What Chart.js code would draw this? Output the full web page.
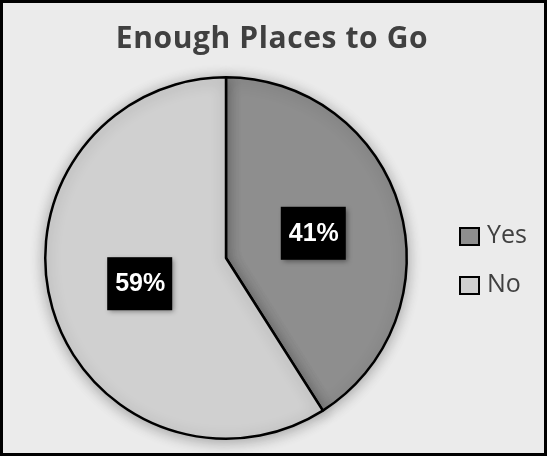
<!DOCTYPE html>
<html>
<head>
<meta charset="utf-8">
<script src="https://cdn.jsdelivr.net/npm/chart.js@4"></script>
<style>
html,body{margin:0;padding:0;background:#ebebeb;}
#wrap{width:547px;height:456px;position:relative;}
</style>
</head>
<body>
<div id="wrap"><canvas id="c" width="547" height="456"></canvas></div>
<script>
const chartTitle = "Enough Places to Go";
const categories = ["Yes", "No"];
const values = [41, 59];
const sliceColors = ["#8e8e8e", "#d0d0d0"];

const framePlugin = {
  id: 'frame',
  beforeDraw(chart) {
    const ctx = chart.ctx;
    ctx.save();
    ctx.fillStyle = '#ebebeb';
    ctx.fillRect(0, 0, chart.width, chart.height);
    ctx.restore();
  },
  beforeDatasetsDraw(chart) {
    const ctx = chart.ctx;
    ctx.save();
    ctx.shadowColor = 'rgba(0,0,0,0.3)';
    ctx.shadowBlur = 14;
    ctx.shadowOffsetX = 0;
    ctx.shadowOffsetY = 2;
  },
  afterDatasetsDraw(chart) {
    chart.ctx.restore();
  },
  afterDraw(chart) {
    const ctx = chart.ctx;
    ctx.save();
    // title
    ctx.fillStyle = '#404040';
    ctx.font = 'bold 30px "Open Sans"';
    ctx.letterSpacing = '0.6px';
    ctx.textAlign = 'center';
    ctx.textBaseline = 'alphabetic';
    ctx.fillText(chartTitle, 272, 48);
    ctx.letterSpacing = '0px';
    // data labels
    const meta = chart.getDatasetMeta(0);
    const total = values.reduce((a, b) => a + b, 0);
    meta.data.forEach((arc, i) => {
      const mid = (arc.startAngle + arc.endAngle) / 2;
      const r = arc.outerRadius * 0.5;
      const x = arc.x + Math.cos(mid) * r;
      const y = arc.y + Math.sin(mid) * r;
      const txt = Math.round(values[i] / total * 100) + '%';
      ctx.save();
      ctx.shadowColor = 'rgba(0,0,0,0.4)';
      ctx.shadowBlur = 5;
      ctx.shadowOffsetX = 2;
      ctx.shadowOffsetY = 2;
      ctx.fillStyle = '#000';
      ctx.fillRect(x - 32, y - 26, 65, 53);
      ctx.restore();
      ctx.font = 'bold 25px "Liberation Sans"';
      ctx.fillStyle = '#fff';
      ctx.textAlign = 'center';
      ctx.textBaseline = 'middle';
      ctx.fillText(txt, x + 1, y + 1);
    });
    // legend
    categories.forEach((c, i) => {
      const ly = 228 + i * 49;
      ctx.fillStyle = sliceColors[i];
      ctx.fillRect(460, ly, 19, 17);
      ctx.strokeStyle = '#000';
      ctx.lineWidth = 2;
      ctx.strokeRect(460, ly, 19, 17);
      ctx.fillStyle = '#404040';
      ctx.font = '25px "Open Sans"';
      ctx.textAlign = 'left';
      ctx.textBaseline = 'middle';
      ctx.fillText(c, 487, ly + 8);
    });
    // frame border
    ctx.strokeStyle = '#000';
    ctx.lineWidth = 3;
    ctx.strokeRect(1.5, 1.5, chart.width - 3, chart.height - 3);
    ctx.restore();
  }
};

new Chart(document.getElementById('c'), {
  type: 'pie',
  data: {
    labels: categories,
    datasets: [{
      data: values,
      backgroundColor: sliceColors,
      borderColor: '#000',
      borderWidth: 2.5,
      borderAlign: 'center'
    }]
  },
  options: {
    responsive: false,
    animation: false,
    rotation: 0,
    layout: { padding: { left: 44, right: 139, top: 76, bottom: 16 } },
    plugins: {
      legend: { display: false },
      title: { display: false },
      tooltip: { enabled: false }
    }
  },
  plugins: [framePlugin]
});
</script>
</body>
</html>
